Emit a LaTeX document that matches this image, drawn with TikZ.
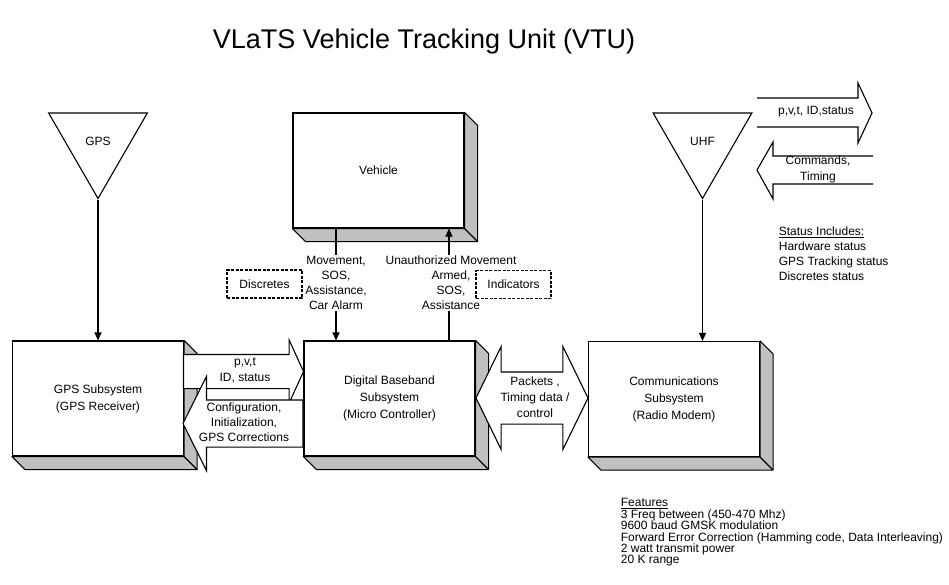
\documentclass[tikz,border=0pt]{standalone}
\usepackage{fontspec}
\setmainfont{Liberation Sans}
\usetikzlibrary{arrows.meta}
\usetikzlibrary{shapes}
\usetikzlibrary{calc}
\definecolor{shade}{RGB}{192,192,192}
\newcommand{\bevel}[1]{%
  \draw[fill=shade,line join=round] (#1.south west) -- ++(13,13) -- ($(#1.south east)+(13,13)$) -- ($(#1.north east)+(13,13)$) -- (#1.north east) -- (#1.south east) -- cycle;
  \draw (#1.south east) -- ++(13,13);}

\begin{document}
\begin{tikzpicture}[x=1pt,y=-1pt,line width=1.1pt,font=\fontsize{12}{16}\selectfont]
        \useasboundingbox (0,0) rectangle (949,585);
        \node (title) at (424,42) {\fontsize{27}{30}\selectfont VLaTS Vehicle Tracking Unit (VTU)};
        % units
        \begin{scope}[every node/.style={draw,fill=white,minimum width=171,minimum height=115,inner sep=0pt,align=center,font=\fontsize{12}{17}\selectfont}]
        \node (vehicle) at (378.5,170.5) {Vehicle};
        \node (gpssub) at (98,398.5) {GPS Subsystem\\(GPS Receiver)};
        \node (dbb) at (389.5,398.5) {Digital Baseband\\Subsystem\\(Micro Controller)};
        \node (comms) at (674,399) {Communications\\Subsystem\\(Radio Modem)};
        \end{scope}
        \bevel{vehicle}
        \bevel{gpssub}
        \bevel{dbb}
        \bevel{comms}
        % antennas
        \begin{scope}[every node/.style={draw,fill=white,regular polygon,regular polygon sides=3,shape border rotate=180,minimum size=114,inner sep=0pt}]
        \node (gpsant) at (98,141.5) {GPS};
        \node (uhfant) at (702.5,141.5) {UHF};
        \end{scope}
        % data paths
        \begin{scope}[every node/.style={draw,fill=white,inner xsep=0pt,outer sep=0pt}]
        \node (gpsout) at (183.5,371.5) [anchor=tail,single arrow,inner ysep=16.5,minimum height=120,minimum width=62,single arrow head extend=14.5,single arrow tip angle=131] {};
        \node (gpsin) at (303,423.5) [anchor=tail,single arrow,shape border rotate=180,inner ysep=23,minimum height=120,minimum width=93,single arrow head extend=23.5,single arrow tip angle=127] {};
        \node (link) at (532,398) [double arrow,inner ysep=25.5,minimum height=112,minimum width=102,double arrow head extend=25.5,double arrow tip angle=128] {};
        \end{scope}
        \node (pvt) at (245,370) [align=center] {p,v,t\\ID, status};
        \node (cfg) at (244,422) [align=center,fill=white,inner sep=1pt,font=\fontsize{12}{15}\selectfont] {Configuration,\\Initialization,\\GPS Corrections};
        \node (pkt) at (535,397) [align=center] {Packets ,\\Timing data /\\control};
        % signals
        \coordinate (mv) at (336,0);
        \coordinate (ua) at (449,0);
        \begin{scope}[every edge/.style={draw=black,line width=1.1pt,-{Triangle[length=8,width=7]}}]
        \path (gpsant.corner 1) edge (gpssub.north);
        \path (uhfant.corner 1) edge (uhfant.corner 1 |- comms.north);
        \path (vehicle.south -| mv) edge (dbb.north -| mv);
        \path (dbb.north -| ua) edge (vehicle.south -| ua);
        \end{scope}
        \begin{scope}[every node/.style={fill=white,align=center,inner sep=1pt,font=\fontsize{12}{15}\selectfont}]
        \node (mvtext) at (336,283) {Movement,\\SOS,\\Assistance,\\Car Alarm};
        \node (uatext) at (451,283) {Unauthorized Movement\\Armed,\\SOS,\\Assistance};
        \end{scope}
        \begin{scope}[every node/.style={draw,fill=white,dash pattern=on 3pt off 1.5pt,line width=1.3pt,minimum width=75,minimum height=28}]
        \node (discretes) at (264.5,284) {Discretes};
        \node (indicators) at (513.5,284.5) {Indicators};
        \end{scope}
        % radio link
        \draw[fill=white] (757,98) -- (858,98) -- (858,83) -- (872,113) -- (858,143) -- (858,127) -- (757,127);
        \draw[fill=white] (873,156) -- (773,156) -- (773,142) -- (757,170) -- (773,199) -- (773,184) -- (873,184);
        \node (uplink) at (816,112) {p,v,t, ID,status};
        \node (downlink) at (818,169) [align=center] {Commands,\\Timing};
        % notes
        \node (status) at (775,254) [anchor=west,align=left,font=\fontsize{12}{15}\selectfont] {\underline{Status Includes:}\\Hardware status\\GPS Tracking status\\Discretes status};
        \node (features) at (617,532.5) [anchor=west,align=left,font=\fontsize{12}{11.4}\selectfont] {\underline{Features}\\3 Freq between (450-470 Mhz)\\9600 baud GMSK modulation\\Forward Error Correction (Hamming code, Data Interleaving)\\2 watt transmit power\\20 K range};
\end{tikzpicture}
\end{document}
